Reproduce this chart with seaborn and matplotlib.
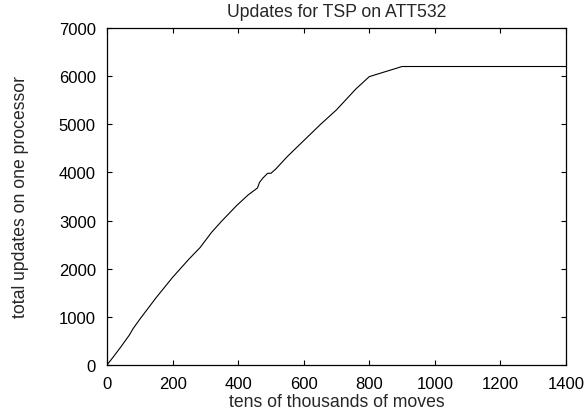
import matplotlib
matplotlib.use("Agg")
import matplotlib.pyplot as plt
import seaborn as sns
import pandas as pd

# Cumulative updates on one processor vs. moves (tens of thousands)
moves = [0, 20, 40, 68, 80, 100, 150, 200, 250, 284, 319, 350, 395, 430,
         459, 465, 475, 490, 500, 515, 550, 600, 650, 700, 759, 800, 900,
         1000, 1400]
updates = [0, 175, 355, 620, 760, 950, 1400, 1820, 2200, 2440, 2756, 2990,
           3309, 3530, 3677, 3790, 3880, 3982, 3982, 4072, 4330, 4660, 4990,
           5300, 5733, 5990, 6200, 6200, 6200]

xticks = [0, 200, 400, 600, 800, 1000, 1200, 1400]
yticks = [0, 1000, 2000, 3000, 4000, 5000, 6000, 7000]

df = pd.DataFrame({"moves": moves, "updates": updates})

sns.set_style("ticks")
plt.rcParams["font.family"] = ["Liberation Sans", "DejaVu Sans"]

fig = plt.figure(figsize=(5.86, 4.14), dpi=100)
ax = fig.add_axes([107 / 586, 1 - 366 / 414, (566 - 107) / 586, (366 - 29) / 414])

sns.lineplot(data=df, x="moves", y="updates", ax=ax, color="black",
             linewidth=0.8, estimator=None, sort=False)

ax.set_xlim(0, 1400)
ax.set_ylim(0, 7000)
ax.set_xticks(xticks)
ax.set_yticks(yticks)
ax.tick_params(direction="in", length=3.5, width=0.8, top=True, right=True,
               labelsize=12, colors="black")
ax.tick_params(axis="x", pad=8)
ax.tick_params(axis="y", pad=8)
for s in ax.spines.values():
    s.set_linewidth(0.9)
    s.set_color("black")

ax.set_title("Updates for TSP on ATT532", fontsize=12.7, pad=8.5)
ax.set_xlabel("tens of thousands of moves", fontsize=12.7, labelpad=1.5)
ax.set_ylabel("total updates on one processor", fontsize=12.7, labelpad=21.5)

fig.savefig("out.png", dpi=100)
